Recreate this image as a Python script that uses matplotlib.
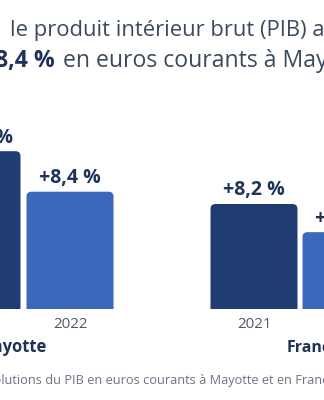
import matplotlib
matplotlib.use("Agg")
import matplotlib.pyplot as plt
from matplotlib.patches import PathPatch
from matplotlib.path import Path

plt.rcParams['font.family'] = ['Open Sans', 'DejaVu Sans']

# Growth of GDP in current euros (%)
years = ["2021", "2022"]
territories = ["Mayotte", "France"]
mayotte_growth = [11.3, 8.4]
france_growth = [8.2, 6.0]
mayotte_labels = ["+11,3 %", "+8,4 %"]
france_labels = ["+8,2 %", "+6,0 %"]

title_line1 = "le produit intérieur brut (PIB) a"
title_bold = "+8,4 %"
title_rest = "en euros courants à Mayotte"
source_note = "Évolutions du PIB en euros courants à Mayotte et en France"

W, H = 324, 400
fig = plt.figure(figsize=(W / 100, H / 100), dpi=100)
fig.patch.set_facecolor("white")

DARK = "#1f3c73"
LIGHT = "#3a68bb"
INK = "#1f3359"
TITLE = "#3c4a5e"
TICK = "#4d5768"
NOTE = "#6b7483"


def pt(px):
    return px * 0.72


def fx(px):
    return px / W


def fy(py):
    return 1 - py / H


BASE = 309      # baseline of the bars, pixels from the top
AX_H = 200      # axes height in pixels


def top_rounded(x, w, h, rx, ry):
    """Bar outline with rounded top corners, square at the base."""
    verts = [(x, 0), (x, h - ry), (x, h), (x + rx, h),
             (x + w - rx, h), (x + w, h), (x + w, h - ry),
             (x + w, 0), (x, 0)]
    codes = [Path.MOVETO, Path.LINETO, Path.CURVE3, Path.CURVE3,
             Path.LINETO, Path.CURVE3, Path.CURVE3,
             Path.LINETO, Path.CLOSEPOLY]
    return Path(verts, codes)


def panel(left, width, values, labels, px_per_unit):
    ax = fig.add_axes([fx(left), fy(BASE), width / W, AX_H / H])
    ax.set_xlim(-0.5, 1.5)
    ax.set_ylim(0, AX_H / px_per_unit)
    ux = width / 2.0
    uy = px_per_unit
    bar_w = 87 / ux
    bars = ax.bar(range(len(values)), values, width=bar_w, color=[DARK, LIGHT])
    for b, lab in zip(bars, labels):
        x, w, h, c = b.get_x(), b.get_width(), b.get_height(), b.get_facecolor()
        b.set_visible(False)
        ax.add_patch(PathPatch(top_rounded(x, w, h, 5 / ux, 5 / uy),
                               fc=c, ec="none", clip_on=False))
        ax.annotate(lab, xy=(x + w / 2, h), xytext=(0, pt(8.5)),
                    textcoords="offset points", ha="center", va="baseline",
                    fontsize=pt(19.5), fontweight="bold", color=INK,
                    annotation_clip=False)
    ax.set_xticks(range(len(years)), years)
    ax.tick_params(axis="x", length=0, pad=pt(8), labelsize=pt(15), labelcolor=TICK)
    ax.set_yticks([])
    for s in ax.spines.values():
        s.set_visible(False)
    ax.patch.set_alpha(0)
    return ax


panel(-69.5, 186, mayotte_growth, mayotte_labels, 117.3 / 8.4)
panel(208, 184, france_growth, france_labels, 105 / 8.2)

# Territory names under each group
fig.text(fx(47), fy(352), territories[0], ha="right", va="baseline",
         fontsize=pt(16.5), fontweight="bold", color=INK)
fig.text(fx(287), fy(352), territories[1], ha="left", va="baseline",
         fontsize=pt(16), fontweight="bold", color=INK)

# Title
fig.text(fx(10), fy(36), title_line1, ha="left", va="baseline",
         fontsize=pt(22), color=TITLE)
fig.text(fx(55), fy(67), title_bold, ha="right", va="baseline",
         fontsize=pt(23), fontweight="bold", color=INK)
fig.text(fx(63), fy(67), title_rest, ha="left", va="baseline",
         fontsize=pt(23), color=TITLE)

# Note under the chart, its first letters running off the left edge
renderer = fig.canvas.get_renderer()
probe = fig.text(0, 0, "Évo", fontsize=pt(12.7))
shift = probe.get_window_extent(renderer).width
probe.remove()
fig.text(fx(1 - shift), fy(384), source_note, ha="left", va="baseline",
         fontsize=pt(12.7), color=NOTE)

fig.savefig("out.png", dpi=100, facecolor="white")
